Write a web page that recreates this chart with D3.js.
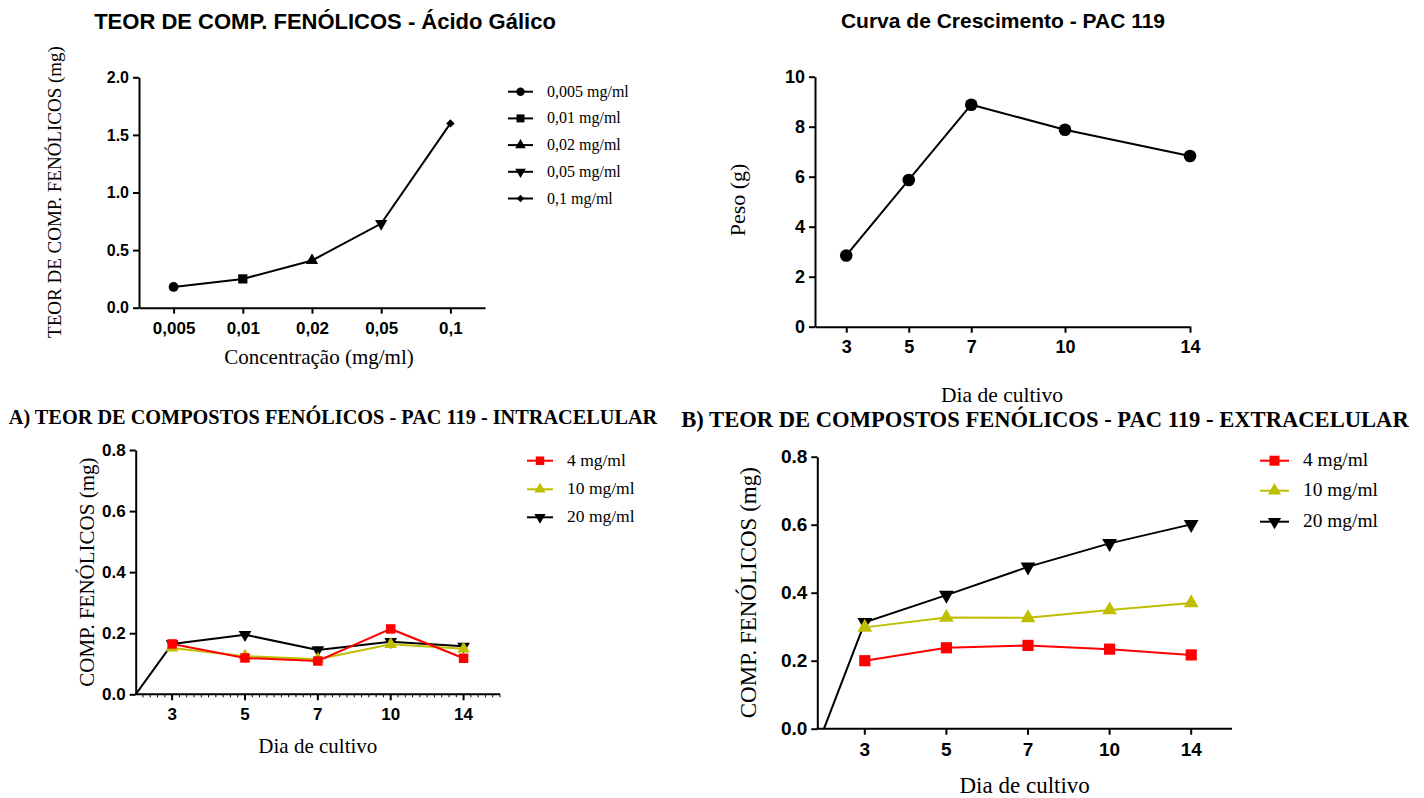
<!DOCTYPE html>
<html lang="pt">
<head>
<meta charset="UTF-8">
<title>Compostos fenólicos - PAC 119</title>
<script src="https://d3js.org/d3.v7.min.js"></script>
<style>
  body { margin: 0; background: #fff; }
  .serif { font-family: "Liberation Serif", "Times New Roman", serif; }
  .sans { font-family: "Liberation Sans", Arial, sans-serif; }
  .tick text { font-family: "Liberation Sans", Arial, sans-serif; font-weight: bold; fill: #000; }
  .domain, .tick line { stroke: #000; stroke-width: 2; }
</style>
</head>
<body>
<svg width="1424" height="798"></svg>
<script>
// --- data -----------------------------------------------------------
// top left: gallic acid standard
const concLabels = ['0,005', '0,01', '0,02', '0,05', '0,1'];
const concLegend = ['0,005 mg/ml', '0,01 mg/ml', '0,02 mg/ml', '0,05 mg/ml', '0,1 mg/ml'];
const gallicValues = [0.18, 0.25, 0.41, 0.73, 1.60];
const gallicTicks = [0, 0.5, 1.0, 1.5, 2.0];

// top right: growth curve
const growthDays = [3, 5, 7, 10, 14];
const growthWeight = [2.85, 5.87, 8.88, 7.88, 6.83];
const growthTicks = [0, 2, 4, 6, 8, 10];

// bottom: phenolic content per culture day
const days = ['3', '5', '7', '10', '14'];
const seriesNames = ['4 mg/ml', '10 mg/ml', '20 mg/ml'];
const intra4 = [0.165, 0.119, 0.109, 0.214, 0.118];
const intra10 = [0.152, 0.125, 0.115, 0.164, 0.149];
const intra20 = [0.165, 0.195, 0.145, 0.172, 0.157];
const extra4 = [0.200, 0.238, 0.245, 0.234, 0.217];
const extra10 = [0.298, 0.327, 0.326, 0.349, 0.370];
const extra20 = [0.313, 0.393, 0.476, 0.545, 0.601];
const start20 = 0; // the 20 mg/ml curve starts at 0 on the left edge
const phenolTicks = [0, 0.2, 0.4, 0.6, 0.8];

const colors = ['#ff0000', '#bfbf00', '#000000'];

const svg = d3.select('svg');

// rot: rotation in degrees (180 = downward triangle, 45 = diamond from square)
function marker(g, x, y, type, size, color, rot) {
  g.append('path')
    .attr('d', d3.symbol().type(type).size(size)())
    .attr('transform', `translate(${x},${y})` + (rot ? ` rotate(${rot})` : ''))
    .attr('fill', color);
}

function text(g, x, y, str, cls, size, opts = {}) {
  const t = g.append('text')
    .attr('class', cls)
    .attr('x', x).attr('y', y)
    .attr('font-size', size)
    .attr('text-anchor', opts.anchor || 'middle')
    .attr('font-weight', opts.bold ? 'bold' : 'normal')
    .attr('fill', '#000')
    .text(str);
  if (opts.rotate) t.attr('transform', `rotate(-90,${x},${y})`);
  return t;
}

// ========== top left ==========
{
  const g = svg.append('g');
  const x = d3.scalePoint().domain(concLabels).range([139, 485]).padding(0.5);
  const y = d3.scaleLinear().domain([0, 2]).range([307.7, 77.3]);

  g.append('g').attr('transform', 'translate(0,307.7)')
    .call(d3.axisBottom(x).tickSize(6).tickPadding(8).tickSizeOuter(0))
    .call(a => a.selectAll('text').attr('font-size', 17));
  g.append('g').attr('transform', 'translate(139,0)')
    .call(d3.axisLeft(y).tickValues(gallicTicks).tickFormat(d3.format('.1f')).tickSize(6).tickPadding(4).tickSizeOuter(0))
    .call(a => a.selectAll('text').attr('font-size', 16));

  g.append('path').datum(gallicValues)
    .attr('fill', 'none').attr('stroke', '#000').attr('stroke-width', 2)
    .attr('d', d3.line().x((d, i) => x(concLabels[i])).y(d => y(d)));

  const shapes = [
    [d3.symbolCircle, 75, 0], [d3.symbolSquare, 85, 0], [d3.symbolTriangle, 65, 0],
    [d3.symbolTriangle, 65, 180], [d3.symbolSquare, 36, 45]
  ];
  gallicValues.forEach((v, i) => marker(g, x(concLabels[i]), y(v), shapes[i][0], shapes[i][1], '#000', shapes[i][2]));

  // legend
  concLegend.forEach((name, i) => {
    const ly = 91.7 + i * 26.7;
    g.append('line').attr('x1', 508).attr('x2', 533).attr('y1', ly).attr('y2', ly)
      .attr('stroke', '#000').attr('stroke-width', 2);
    marker(g, 520.5, ly, shapes[i][0], shapes[i][1] * 0.75, '#000', shapes[i][2]);
    text(g, 547, ly + 5, name, 'serif', 16, { anchor: 'start' });
  });

  text(g, 325, 29, 'TEOR DE COMP. FENÓLICOS - Ácido Gálico', 'sans', 22, { bold: true });
  text(g, 319, 364, 'Concentração (mg/ml)', 'serif', 21);
  text(g, 61, 192, 'TEOR DE COMP. FENÓLICOS (mg)', 'serif', 19, { rotate: true });
}

// ========== top right ==========
{
  const g = svg.append('g');
  const x = d3.scaleLinear().domain([2, 14]).range([815, 1190]);
  const y = d3.scaleLinear().domain([0, 10]).range([326.7, 76.7]);

  g.append('g').attr('transform', 'translate(0,326.7)')
    .call(d3.axisBottom(x).tickValues(growthDays).tickSize(6).tickPadding(8).tickSizeOuter(0))
    .call(a => a.selectAll('text').attr('font-size', 18));
  g.append('g').attr('transform', 'translate(815,0)')
    .call(d3.axisLeft(y).tickValues(growthTicks).tickSize(6).tickPadding(4).tickSizeOuter(0))
    .call(a => a.selectAll('text').attr('font-size', 18));

  g.append('path').datum(growthWeight)
    .attr('fill', 'none').attr('stroke', '#000').attr('stroke-width', 2)
    .attr('d', d3.line().x((d, i) => x(growthDays[i])).y(d => y(d)));
  growthWeight.forEach((v, i) => marker(g, x(growthDays[i]), y(v), d3.symbolCircle, 125, '#000'));

  text(g, 1003, 28, 'Curva de Crescimento - PAC 119', 'sans', 21, { bold: true });
  text(g, 1002, 402, 'Dia de cultivo', 'serif', 21.5);
  text(g, 745, 200, 'Peso (g)', 'serif', 22, { rotate: true });
}

// ========== bottom panels ==========
function phenolPanel(o) {
  const g = svg.append('g');
  const x = d3.scaleBand().domain(days).range([o.x0, o.x1]).paddingInner(0).paddingOuter(0);
  const cx = d => x(d) + x.bandwidth() / 2;
  const y = d3.scaleLinear().domain([0, 0.8]).range([o.yb, o.yt]);

  const xa = g.append('g').attr('transform', `translate(0,${o.yb})`)
    .call(d3.axisBottom(x).tickSize(6).tickPadding(8).tickSizeOuter(0))
    .call(a => a.selectAll('text').attr('font-size', o.tick));
  xa.select('.domain').attr('d', `M${o.ax},0H${o.x1}`);
  if (o.minor) {
    const step = x.step() / 10;
    const minor = d3.range(o.x0 + step, o.x1, step);
    g.append('g').selectAll('line').data(minor).join('line')
      .attr('x1', d => d).attr('x2', d => d)
      .attr('y1', o.yb).attr('y2', o.yb + 3)
      .attr('stroke', '#000').attr('stroke-width', 1);
  }
  g.append('g').attr('transform', `translate(${o.ax},0)`)
    .call(d3.axisLeft(y).tickValues(phenolTicks).tickFormat(d3.format('.1f')).tickSize(6).tickPadding(4).tickSizeOuter(0))
    .call(a => a.selectAll('text').attr('font-size', o.tick));

  const line = d3.line().x(d => d[0]).y(d => y(d[1]));
  // draw order: black, yellow, red (red on top)
  const order = [2, 1, 0];
  const types = [[d3.symbolSquare, 0], [d3.symbolTriangle, 0], [d3.symbolTriangle, 180]];
  order.forEach(k => {
    const pts = o.series[k].map((v, i) => [cx(days[i]), v]);
    if (k === 2) pts.unshift([o.x0, start20]);
    g.append('path').datum(pts)
      .attr('fill', 'none').attr('stroke', colors[k]).attr('stroke-width', 2)
      .attr('d', line);
    o.series[k].forEach((v, i) => marker(g, cx(days[i]), y(v), types[k][0], o.msize[k], colors[k], types[k][1]));
  });

  seriesNames.forEach((name, k) => {
    const ly = o.legY[k];
    g.append('line').attr('x1', o.legX).attr('x2', o.legX + o.legW).attr('y1', ly).attr('y2', ly)
      .attr('stroke', colors[k]).attr('stroke-width', 2);
    marker(g, o.legX + o.legW / 2, ly, types[k][0], o.msize[k] * 0.8, colors[k], types[k][1]);
    text(g, o.legX + o.legW + 14, ly + 5, name, 'serif', o.legFont, { anchor: 'start' });
  });

  text(g, o.titleX, o.titleY, o.title, 'serif', o.titleFont, { bold: true });
  text(g, (o.ax + o.x1) / 2, o.xlabY, 'Dia de cultivo', 'serif', o.labFont);
  text(g, o.ylabX, (o.yb + o.yt) / 2, 'COMP. FENÓLICOS (mg)', 'serif', o.labFont, { rotate: true });
}

phenolPanel({
  series: [intra4, intra10, intra20],
  x0: 135.7, x1: 500, ax: 135.7, yb: 694.3, yt: 450, tick: 17, minor: true,
  msize: [90, 70, 70],
  legX: 527, legW: 26, legY: [460.7, 489.3, 517.3], legFont: 17.5,
  title: 'A) TEOR DE COMPOSTOS FENÓLICOS - PAC 119 - INTRACELULAR',
  titleX: 333, titleY: 424, titleFont: 20.3,
  xlabY: 753, labFont: 21, ylabX: 94
});

phenolPanel({
  series: [extra4, extra10, extra20],
  x0: 824, x1: 1232, ax: 817.3, yb: 728.7, yt: 456.7, tick: 19, minor: false,
  msize: [125, 95, 95],
  legX: 1260, legW: 29, legY: [460.7, 490.7, 521.7], legFont: 19.4,
  title: 'B) TEOR DE COMPOSTOS FENÓLICOS - PAC 119 - EXTRACELULAR',
  titleX: 1045, titleY: 427, titleFont: 22.6,
  xlabY: 793, labFont: 23, ylabX: 756
});
</script>
</body>
</html>
